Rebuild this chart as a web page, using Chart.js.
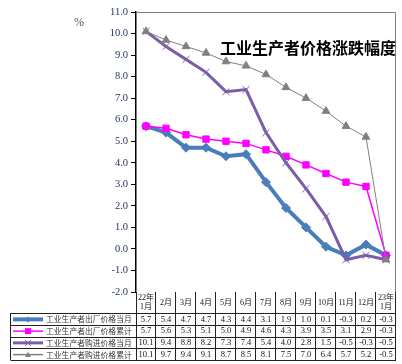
<!DOCTYPE html>
<html>
<head>
<meta charset="utf-8">
<script src="https://cdn.jsdelivr.net/npm/chart.js@4/dist/chart.umd.min.js"></script>
<style>
  html, body { margin:0; padding:0; background:#fff; }
  #wrap { width:402px; height:364px; position:relative; }
</style>
</head>
<body>
<div id="wrap"><canvas id="c" width="402" height="364"></canvas></div>
<script>
// ==== データ ====
const months = [['22年','1月'],['2月'],['3月'],['4月'],['5月'],['6月'],['7月'],['8月'],['9月'],['10月'],['11月'],['12月'],['23年','1月']];
const seriesNames = ['工业生产者出厂价格当月','工业生产者出厂价格累计','工业生产者购进价格当月','工业生产者购进价格累计'];
const ppiMonth   = [5.7,5.4,4.7,4.7,4.3,4.4,3.1,1.9,1.0,0.1,-0.3,0.2,-0.3];
const ppiCum     = [5.7,5.6,5.3,5.1,5.0,4.9,4.6,4.3,3.9,3.5,3.1,2.9,-0.3];
const ppirmMonth = [10.1,9.4,8.8,8.2,7.3,7.4,5.4,4.0,2.8,1.5,-0.5,-0.3,-0.5];
const ppirmCum   = [10.1,9.7,9.4,9.1,8.7,8.5,8.1,7.5,7.0,6.4,5.7,5.2,-0.5];
const yTicks = { min:-2, max:11, step:1 };
const TITLE = '工业生产者价格涨跌幅度';

/* ===== スタイル ===== */
const STY = [
  { color:'#4A7EBB', width:4,   point:'rectRot',  r:4.5, pw:1 },
  { color:'#FF00FF', width:1.5, point:'rect',     r:4.5, pw:1 },
  { color:'#7B5EA7', width:3,   point:'crossRot', r:5,   pw:1 },
  { color:'#808080', width:1,   point:'triangle', r:4.5, pw:1 }
];
const SERIF = '"Liberation Serif", "Noto Sans CJK SC", serif';
const ROW_TOP = 313, ROW_H = 11.75;

function mkSet(i, data){
  const s = STY[i];
  return {
    label: seriesNames[i], data,
    borderColor: s.color, backgroundColor: s.color,
    borderWidth: s.width, pointStyle: s.point, pointRadius: s.r,
    pointBorderWidth: s.pw, pointBorderColor: s.color, pointBackgroundColor: s.color,
    tension: 0, order: 4 - i
  };
}

// 凡例マーカー（手描き）
function drawMark(ctx, style, x, y, r, color){
  ctx.save();
  ctx.fillStyle = color; ctx.strokeStyle = color; ctx.lineWidth = 1;
  ctx.beginPath();
  if (style === 'rectRot'){ ctx.moveTo(x, y-r); ctx.lineTo(x+r, y); ctx.lineTo(x, y+r); ctx.lineTo(x-r, y); ctx.closePath(); ctx.fill(); }
  else if (style === 'rect'){ ctx.rect(x-r, y-r, 2*r, 2*r); ctx.fill(); }
  else if (style === 'crossRot'){ ctx.moveTo(x-r,y-r); ctx.lineTo(x+r,y+r); ctx.moveTo(x+r,y-r); ctx.lineTo(x-r,y+r); ctx.stroke(); }
  else if (style === 'triangle'){ ctx.moveTo(x, y-r); ctx.lineTo(x+r, y+r*0.8); ctx.lineTo(x-r, y+r*0.8); ctx.closePath(); ctx.fill(); }
  ctx.restore();
}

/* ===== 表・枠・タイトル ===== */
const tablePlugin = {
  id:'dataTable',
  afterDraw(c){
    const ctx = c.ctx, ca = c.chartArea, xs = c.scales.x;
    const half = (xs.getPixelForValue(1) - xs.getPixelForValue(0)) / 2;
    const bottom = ROW_TOP + ROW_H * 4;
    ctx.save();

    // プロット枠（上・右）
    ctx.strokeStyle = '#7f7f7f'; ctx.lineWidth = 1;
    ctx.beginPath();
    ctx.moveTo(ca.left, ca.top + 0.5); ctx.lineTo(ca.right - 0.5, ca.top + 0.5); ctx.lineTo(ca.right - 0.5, ca.bottom);
    ctx.stroke();

    // タイトル
    ctx.fillStyle = '#000';
    ctx.font = 'bold 16px "Noto Sans CJK SC", sans-serif';
    ctx.textAlign = 'center'; ctx.textBaseline = 'middle';
    ctx.fillText(TITLE, 308, 48);

    // %
    ctx.fillStyle = '#5a4a3a';
    ctx.font = '12px ' + SERIF;
    ctx.fillText('%', 79, 23);

    // 表の罫線
    ctx.strokeStyle = '#222'; ctx.lineWidth = 1;
    ctx.beginPath();
    ctx.moveTo(ca.left + 0.5, ca.bottom); ctx.lineTo(ca.left + 0.5, bottom);
    for (let i = 0; i < months.length; i++){
      const xr = Math.round(xs.getPixelForValue(i) + half) - 0.5;
      ctx.moveTo(xr, ca.bottom); ctx.lineTo(xr, bottom);
    }
    for (let r = 0; r <= 4; r++){
      const y = Math.round(ROW_TOP + r * ROW_H) + 0.5;
      ctx.moveTo(10.5, y); ctx.lineTo(ca.right, y);
    }
    ctx.moveTo(10.5, ROW_TOP); ctx.lineTo(10.5, bottom);
    ctx.stroke();

    // 見出し（月）
    ctx.fillStyle = '#111';
    ctx.font = '8px ' + SERIF;
    const hc = (ca.bottom + ROW_TOP) / 2;
    months.forEach((m, i) => {
      const x = xs.getPixelForValue(i);
      if (m.length === 1) ctx.fillText(m[0], x, hc);
      else { ctx.fillText(m[0], x, hc - 5); ctx.fillText(m[1], x, hc + 4.5); }
    });

    // 数値と凡例
    const all = [ppiMonth, ppiCum, ppirmMonth, ppirmCum];
    all.forEach((arr, r) => {
      const cy = ROW_TOP + r * ROW_H + ROW_H / 2 + 0.5;
      ctx.fillStyle = '#111';
      ctx.font = '8.5px ' + SERIF;
      ctx.textAlign = 'center';
      arr.forEach((v, i) => ctx.fillText(v.toFixed(1), xs.getPixelForValue(i), cy));

      const s = STY[r];
      ctx.strokeStyle = s.color; ctx.lineWidth = Math.max(1.5, s.width);
      ctx.beginPath(); ctx.moveTo(13, cy); ctx.lineTo(43, cy); ctx.stroke();
      drawMark(ctx, s.point, 28, cy, 3, s.color);

      ctx.fillStyle = '#333';
      ctx.font = '7.8px "Noto Sans CJK SC", sans-serif';
      ctx.textAlign = 'left';
      ctx.fillText(seriesNames[r], 46, cy);
    });
    ctx.restore();
  }
};

new Chart(document.getElementById('c').getContext('2d'), {
  type:'line',
  data:{
    labels: months.map(m => m.join('')),
    datasets:[ mkSet(0, ppiMonth), mkSet(1, ppiCum), mkSet(2, ppirmMonth), mkSet(3, ppirmCum) ]
  },
  options:{
    responsive:false, animation:false, devicePixelRatio:1,
    layout:{ padding:{ left:10, right:4, top:12, bottom:72 } },
    plugins:{ legend:{display:false}, tooltip:{enabled:false} },
    scales:{
      x:{ display:false, offset:true },
      y:{
        min:yTicks.min, max:yTicks.max,
        afterFit(s){ s.width = 126; },
        ticks:{ stepSize:yTicks.step, padding:3, color:'#1f2f55',
                font:{ family:SERIF, size:10.5 },
                callback:(v)=> Number(v).toFixed(1) },
        grid:{ drawOnChartArea:false, drawTicks:true, tickLength:5, color:'#000' },
        border:{ display:true, color:'#000', width:1.5 }
      }
    }
  },
  plugins:[tablePlugin]
});
</script>
</body>
</html>
